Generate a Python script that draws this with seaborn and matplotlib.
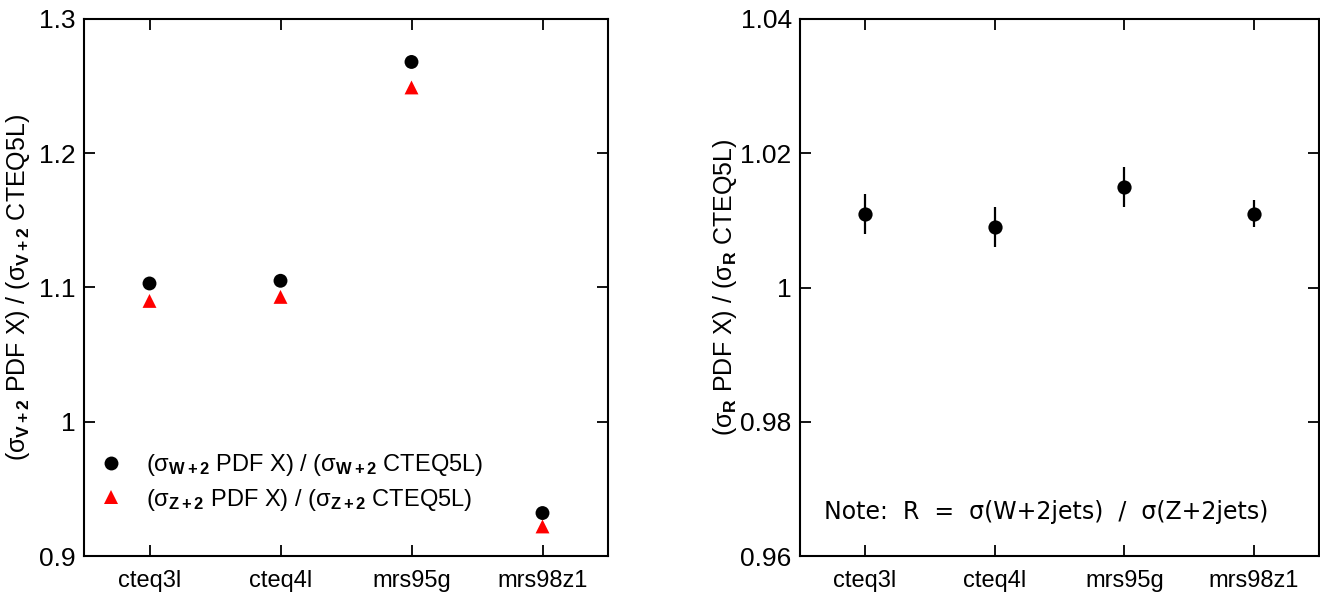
import matplotlib
matplotlib.use("Agg")
import matplotlib.pyplot as plt
import seaborn as sns
import pandas as pd

# ---- data ----
pdfs = ["cteq3l", "cteq4l", "mrs95g", "mrs98z1"]
w_ratio = [1.103, 1.105, 1.268, 0.932]
z_ratio = [1.090, 1.093, 1.249, 0.922]
r_ratio = [1.011, 1.009, 1.015, 1.011]
r_err = [0.003, 0.003, 0.003, 0.002]

left_yticks = [0.9, 1.0, 1.1, 1.2, 1.3]
left_yticklabels = ["0.9", "1", "1.1", "1.2", "1.3"]
right_yticks = [0.96, 0.98, 1.0, 1.02, 1.04]
right_yticklabels = ["0.96", "0.98", "1", "1.02", "1.04"]

sns.set_style("ticks")
plt.rcParams["font.family"] = ["Liberation Sans", "DejaVu Sans"]
plt.rcParams["mathtext.fontset"] = "custom"
plt.rcParams["mathtext.rm"] = "Liberation Sans"
plt.rcParams["mathtext.it"] = "Liberation Sans:italic"
plt.rcParams["mathtext.bf"] = "Liberation Sans:bold"
plt.rcParams["text.color"] = "black"
plt.rcParams["axes.labelcolor"] = "black"
plt.rcParams["xtick.color"] = "black"
plt.rcParams["ytick.color"] = "black"

W, H = 1320, 603
fig = plt.figure(figsize=(W / 100, H / 100), dpi=100)
axL = fig.add_axes([84 / W, (H - 556) / H, (608 - 84) / W, (556 - 19) / H])
axR = fig.add_axes([800 / W, (H - 556) / H, (1319 - 800) / W, (556 - 19) / H])

lab_w = r"(σ$_{\mathbf{W+2}}$ PDF X) / (σ$_{\mathbf{W+2}}$ CTEQ5L)"
lab_z = r"(σ$_{\mathbf{Z+2}}$ PDF X) / (σ$_{\mathbf{Z+2}}$ CTEQ5L)"
dfL = pd.DataFrame({
    "pdf": pdfs * 2,
    "ratio": w_ratio + z_ratio,
    "series": [lab_w] * 4 + [lab_z] * 4,
})
sns.scatterplot(data=dfL, x="pdf", y="ratio", hue="series", style="series",
                palette={lab_w: "black", lab_z: "red"},
                markers={lab_w: "o", lab_z: "^"},
                s=100, linewidth=0, ax=axL, zorder=3)

dfR = pd.DataFrame({"pdf": pdfs, "ratio": r_ratio, "err": r_err})
axR.errorbar(dfR["pdf"], dfR["ratio"], yerr=dfR["err"], fmt="none",
             ecolor="black", elinewidth=1.6, capsize=0, zorder=2)
sns.scatterplot(data=dfR, x="pdf", y="ratio", color="black", s=105,
                linewidth=0, ax=axR, zorder=3)

for ax, yt, ytl, ylim in [
    (axL, left_yticks, left_yticklabels, (0.9, 1.3)),
    (axR, right_yticks, right_yticklabels, (0.96, 1.04)),
]:
    ax.set_xlim(-0.5, 3.5)
    ax.set_ylim(*ylim)
    ax.set_yticks(yt)
    ax.set_yticklabels(ytl)
    ax.set_xlabel("")
    for sp in ax.spines.values():
        sp.set_visible(True)
        sp.set_linewidth(1.5)
        sp.set_color("black")
    ax.tick_params(direction="in", top=True, right=True, length=8, width=1.3,
                   colors="black")
    ax.tick_params(axis="x", pad=10, labelsize=17)
    ax.tick_params(axis="y", pad=6, labelsize=19)

axL.set_ylabel(r"(σ$_{\mathbf{V+2}}$ PDF X) / (σ$_{\mathbf{V+2}}$ CTEQ5L)",
               fontsize=18, labelpad=5)
axR.set_ylabel(r"(σ$_{\mathbf{R}}$ PDF X) / (σ$_{\mathbf{R}}$ CTEQ5L)",
               fontsize=18, labelpad=1)

leg = axL.legend(loc="lower left", bbox_to_anchor=(-0.025, 0.05), frameon=False,
                 fontsize=17, handletextpad=0.5, labelspacing=0.35,
                 markerscale=1.0, borderaxespad=0.3)
for t in leg.get_texts():
    t.set_color("black")

axR.text(0.474, 0.082, "Note:  R  =  σ(W+2jets)  /  σ(Z+2jets)",
         transform=axR.transAxes, ha="center", va="center", fontsize=17,
         family=["DejaVu Sans"], color="black")

fig.savefig("out.png", dpi=100)
